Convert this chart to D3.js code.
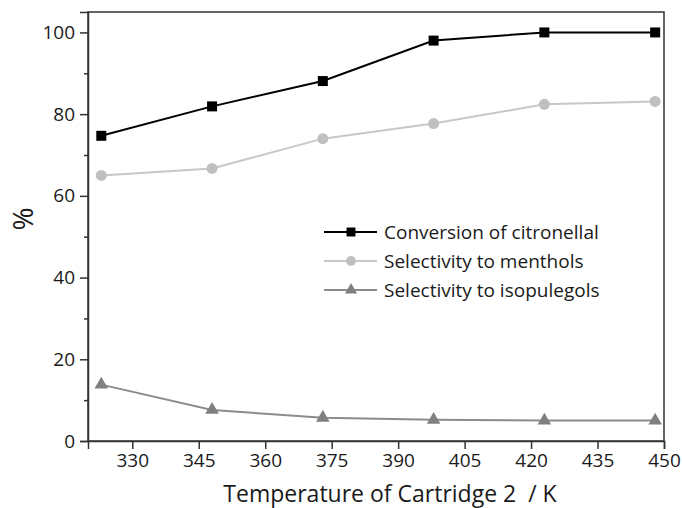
<!DOCTYPE html>
<html>
<head>
<meta charset="utf-8">
<script src="https://cdn.jsdelivr.net/npm/d3@7"></script>
<style>
  body { margin: 0; background: #fff; }
  svg text { font-family: 'Open Sans', sans-serif; fill: #1a1a1a; }
</style>
</head>
<body>
<div class="display"></div>
<script>
const temperatures = [323, 348, 373, 398, 423, 448];
const conversion = [74.7, 81.9, 88.1, 98.0, 100, 100];
const menthols = [65.0, 66.7, 74.0, 77.7, 82.4, 83.1];
const isopulegols = [13.8, 7.6, 5.7, 5.2, 5.0, 5.0];
const xTicks = [330, 345, 360, 375, 390, 405, 420, 435, 450];
const yTicks = [0, 20, 40, 60, 80, 100];
const yMinorTicks = [10, 30, 50, 70, 90];
const seriesNames = ['Conversion of citronellal', 'Selectivity to menthols', 'Selectivity to isopulegols'];

const config = {
  width: 682,
  height: 508,
  margin: { left: 88, top: 12, right: 18, bottom: 67 },
  xTitle: 'Temperature of Cartridge 2  / K',
  yTitle: '%'
};

const series = [
  { name: seriesNames[0], values: conversion, line: '#000000', fill: '#000000', symbol: d3.symbolSquare, size: 100 },
  { name: seriesNames[1], values: menthols, line: '#c8c8c8', fill: '#c0c0c0', symbol: d3.symbolCircle, size: 95 },
  { name: seriesNames[2], values: isopulegols, line: '#8c8c8c', fill: '#808080', symbol: d3.symbolTriangle, size: 80 }
];

const innerW = config.width - config.margin.left - config.margin.right;
const innerH = config.height - config.margin.top - config.margin.bottom;

const svg = d3.select('.display')
  .append('svg')
  .attr('width', config.width)
  .attr('height', config.height);

const g = svg.append('g')
  .attr('transform', `translate(${config.margin.left}, ${config.margin.top})`);

const x = d3.scaleLinear().domain([320, 450]).range([0, innerW]);
const y = d3.scaleLinear().domain([0, 105]).range([innerH, 0]);

// frame
g.append('rect')
  .attr('width', innerW)
  .attr('height', innerH)
  .attr('fill', 'none')
  .attr('stroke', '#333')
  .attr('stroke-width', 1.5);

// x axis
const xAxis = g.append('g')
  .attr('transform', `translate(0, ${innerH})`)
  .call(d3.axisBottom(x).tickValues(xTicks).tickSize(8).tickPadding(5).tickFormat(d3.format('d')));
xAxis.select('.domain').attr('stroke', '#333').attr('stroke-width', 1.5);
xAxis.selectAll('.tick line').attr('stroke', '#333').attr('stroke-width', 1.5);
xAxis.selectAll('.tick text').style('font-size', '19px');

// y axis
const yAxis = g.append('g')
  .call(d3.axisLeft(y).tickValues(yTicks).tickSize(8).tickPadding(5));
yAxis.select('.domain').attr('stroke', '#333').attr('stroke-width', 1.5);
yAxis.selectAll('.tick line').attr('stroke', '#333').attr('stroke-width', 1.5);
yAxis.selectAll('.tick text').style('font-size', '19px');

g.append('g')
  .call(d3.axisLeft(y).tickValues(yMinorTicks).tickSize(4).tickFormat(''))
  .call(a => a.select('.domain').remove())
  .selectAll('.tick line').attr('stroke', '#333').attr('stroke-width', 1.5);

// titles
svg.append('text')
  .attr('x', 390)
  .attr('y', 502)
  .attr('text-anchor', 'middle')
  .style('font-size', '23px')
  .style('white-space', 'pre')
  .text(config.xTitle);

svg.append('text')
  .attr('transform', 'translate(33, 219) rotate(-90)')
  .attr('text-anchor', 'middle')
  .style('font-size', '28px')
  .text(config.yTitle);

// lines and markers
const line = d3.line()
  .x((d, i) => x(temperatures[i]))
  .y(d => y(d));

series.forEach(s => {
  g.append('path')
    .datum(s.values)
    .attr('fill', 'none')
    .attr('stroke', s.line)
    .attr('stroke-width', 2)
    .attr('d', line);

  g.selectAll(null)
    .data(s.values)
    .enter()
    .append('path')
    .attr('d', d3.symbol().type(s.symbol).size(s.size))
    .attr('transform', (d, i) => `translate(${x(temperatures[i])}, ${y(d)})`)
    .attr('fill', s.fill);
});

// legend
const legend = svg.append('g')
  .attr('transform', 'translate(324, 232)');

series.forEach((s, i) => {
  const row = legend.append('g').attr('transform', `translate(0, ${i * 29})`);
  row.append('line')
    .attr('x1', 0).attr('x2', 53)
    .attr('stroke', s.line)
    .attr('stroke-width', 2);
  row.append('path')
    .attr('d', d3.symbol().type(s.symbol).size(s.size * 0.8))
    .attr('transform', 'translate(27, 0)')
    .attr('fill', s.fill);
  row.append('text')
    .attr('x', 60)
    .attr('dy', '0.35em')
    .style('font-size', '19px')
    .text(s.name);
});
</script>
</body>
</html>
